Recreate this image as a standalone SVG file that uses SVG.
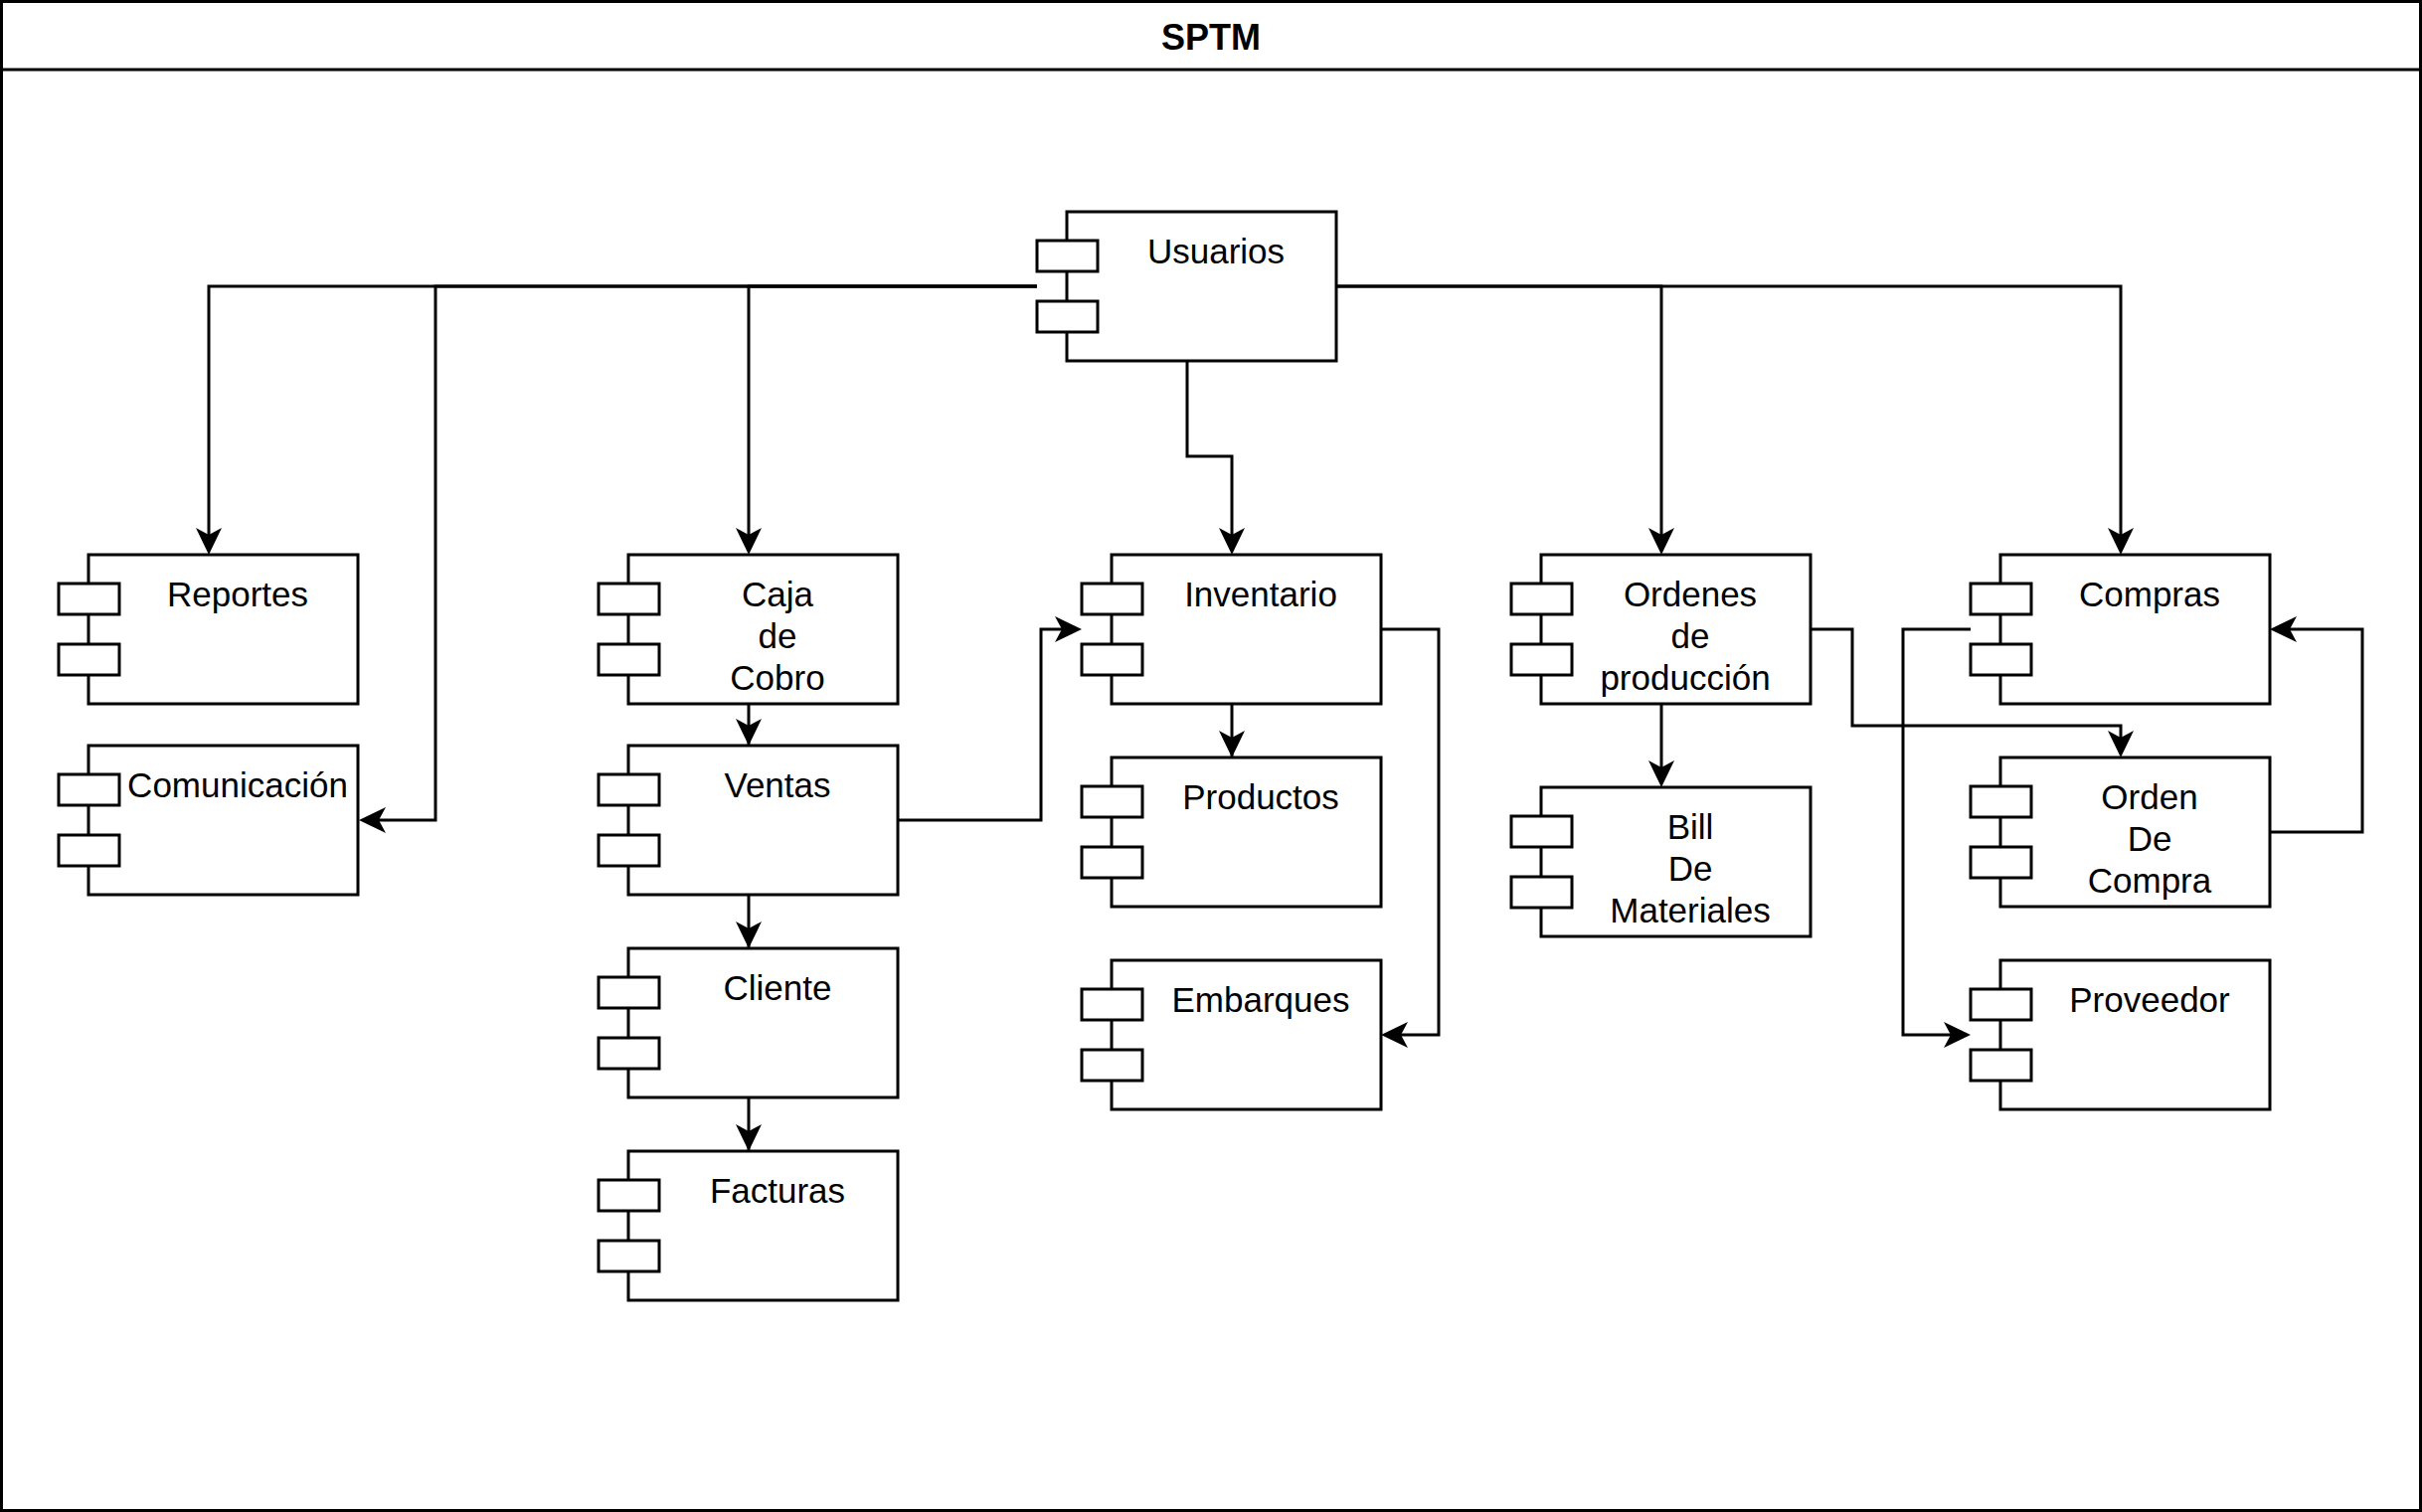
<svg xmlns="http://www.w3.org/2000/svg" width="2436" height="1521" viewBox="0 0 2436 1521">
  <style>
    .frame { fill: #ffffff; stroke: #000000; stroke-width: 3; }
    .body { fill: #ffffff; stroke: #000000; stroke-width: 3; }
    .port { fill: #ffffff; stroke: #000000; stroke-width: 3; }
    .label { font-family: "Liberation Sans", Arial, Helvetica, sans-serif; font-size: 35px; fill: #000000; text-anchor: middle; }
    .title { font-family: "Liberation Sans", Arial, Helvetica, sans-serif; font-size: 36px; font-weight: bold; fill: #000000; text-anchor: middle; }
    .edge { fill: none; stroke: #000000; stroke-width: 3; marker-end: url(#arrow); }
  </style>
  <defs>
    <marker id="arrow" markerUnits="userSpaceOnUse" markerWidth="30" markerHeight="30" refX="7" refY="13" orient="auto" overflow="visible">
      <path d="M27,13 L0,0 L7,13 L0,26 Z" fill="#000000" stroke="none"/>
    </marker>
    <g id="comp">
      <rect class="body" x="30" y="0" width="271" height="150"/>
      <rect class="port" x="0" y="29" width="61" height="31"/>
      <rect class="port" x="0" y="90" width="61" height="31"/>
    </g>
  </defs>

  <rect width="2436" height="1521" fill="#ffffff"/>

  <g id="container">
    <rect class="frame" x="1.5" y="1.5" width="2433" height="1518"/>
    <line x1="0" y1="70" x2="2436" y2="70" stroke="#000000" stroke-width="3"/>
    <text class="title" x="1218" y="50">SPTM</text>
  </g>

  <g id="connectors">
    <path class="edge" d="M1043,288 H210 V538"/>
    <path class="edge" d="M1043,288 H438 V825 H381"/>
    <path class="edge" d="M1043,288 H753 V538"/>
    <path class="edge" d="M1194,363 V459 H1239 V538"/>
    <path class="edge" d="M1344,288 H1671 V538"/>
    <path class="edge" d="M1344,288 H2133 V538"/>
    <path class="edge" d="M753,708 V767 M753,720 V730"/>
    <path class="edge" d="M753,899 V960 M753,924 V934"/>
    <path class="edge" d="M753,1104 V1163 M753,1128 V1138"/>
    <path class="edge" d="M903,825 H1047 V633 H1068"/>
    <path class="edge" d="M1239,708 V767 M1239,732 V742"/>
    <path class="edge" d="M1389,633 H1447 V1041 H1409"/>
    <path class="edge" d="M1671,708 V772"/>
    <path class="edge" d="M1821,633 H1863 V730 H2133 V742"/>
    <path class="edge" d="M2283,837 H2376 V633 H2303"/>
    <path class="edge" d="M1982,633 H1914 V1041 H1962"/>
  </g>

  <g id="usuarios" transform="translate(1043,213)">
    <use href="#comp"/>
    <text class="label" x="180" y="52">Usuarios</text>
  </g>
  <g id="reportes" transform="translate(59,558)">
    <use href="#comp"/>
    <text class="label" x="180" y="52">Reportes</text>
  </g>
  <g id="comunicacion" transform="translate(59,750)">
    <use href="#comp"/>
    <text class="label" x="180" y="52">Comunicación</text>
  </g>
  <g id="caja" transform="translate(602,558)">
    <use href="#comp"/>
    <text class="label" x="180" y="52">Caja</text>
    <text class="label" x="180" y="94">de</text>
    <text class="label" x="180" y="136">Cobro</text>
  </g>
  <g id="ventas" transform="translate(602,750)">
    <use href="#comp"/>
    <text class="label" x="180" y="52">Ventas</text>
  </g>
  <g id="cliente" transform="translate(602,954)">
    <use href="#comp"/>
    <text class="label" x="180" y="52">Cliente</text>
  </g>
  <g id="facturas" transform="translate(602,1158)">
    <use href="#comp"/>
    <text class="label" x="180" y="52">Facturas</text>
  </g>
  <g id="inventario" transform="translate(1088,558)">
    <use href="#comp"/>
    <text class="label" x="180" y="52">Inventario</text>
  </g>
  <g id="productos" transform="translate(1088,762)">
    <use href="#comp"/>
    <text class="label" x="180" y="52">Productos</text>
  </g>
  <g id="embarques" transform="translate(1088,966)">
    <use href="#comp"/>
    <text class="label" x="180" y="52">Embarques</text>
  </g>
  <g id="ordenes" transform="translate(1520,558)">
    <use href="#comp"/>
    <text class="label" x="180" y="52">Ordenes</text>
    <text class="label" x="180" y="94">de</text>
    <text class="label" x="175" y="136">producción</text>
  </g>
  <g id="bill" transform="translate(1520,792)">
    <use href="#comp"/>
    <text class="label" x="180" y="52">Bill</text>
    <text class="label" x="180" y="94">De</text>
    <text class="label" x="180" y="136">Materiales</text>
  </g>
  <g id="compras" transform="translate(1982,558)">
    <use href="#comp"/>
    <text class="label" x="180" y="52">Compras</text>
  </g>
  <g id="orden-de-compra" transform="translate(1982,762)">
    <use href="#comp"/>
    <text class="label" x="180" y="52">Orden</text>
    <text class="label" x="180" y="94">De</text>
    <text class="label" x="180" y="136">Compra</text>
  </g>
  <g id="proveedor" transform="translate(1982,966)">
    <use href="#comp"/>
    <text class="label" x="180" y="52">Proveedor</text>
  </g>
</svg>
